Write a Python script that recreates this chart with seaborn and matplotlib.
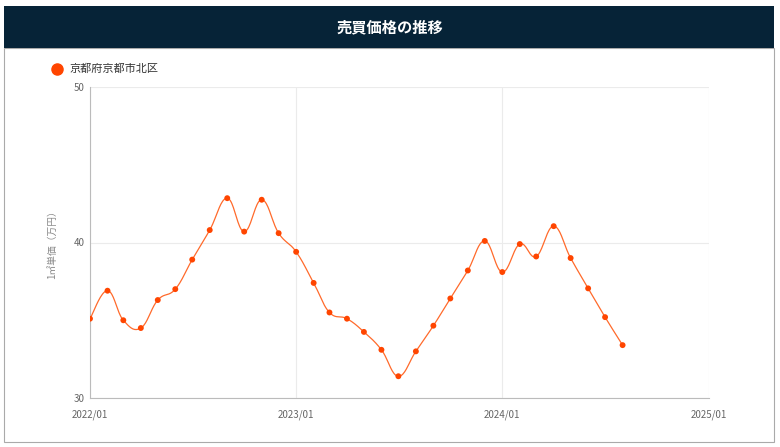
import numpy as np
import pandas as pd
import seaborn as sns
import matplotlib.pyplot as plt
from matplotlib.patches import Rectangle

months = pd.date_range("2022-01-01", periods=32, freq="MS")
prices = [35.1, 36.9, 35.0, 34.5, 36.3, 37.0, 38.9, 40.8, 42.85, 40.7, 42.75, 40.6,
          39.4, 37.4, 35.5, 35.1, 34.25, 33.1, 31.4, 33.0, 34.65, 36.4, 38.2, 40.1,
          38.1, 39.9, 39.1, 41.05, 39.0, 37.05, 35.2, 33.4]
area = "京都府京都市北区"
title = "売買価格の推移"
ylabel = "1㎡単価（万円）"
yticks = [30, 40, 50]
xticks = ["2022-01-01", "2023-01-01", "2024-01-01", "2025-01-01"]
xticklabels = ["2022/01", "2023/01", "2024/01", "2025/01"]

sns.set_style("white")
plt.rcParams['font.family'] = ['Noto Sans CJK JP', 'DejaVu Sans']

df = pd.DataFrame({"month": months, "price": prices})


# smooth curve through the points (cardinal spline, just for drawing the line)
def smooth(x, y, tension=0.4, n=20):
    xs, ys = [], []
    for i in range(len(x) - 1):
        x0, x3 = x[max(i - 1, 0)], x[min(i + 2, len(x) - 1)]
        y0, y3 = y[max(i - 1, 0)], y[min(i + 2, len(y) - 1)]
        x1, x2, y1, y2 = x[i], x[i + 1], y[i], y[i + 1]
        c1x = x1 + (x2 - x0) * tension / 2
        c1y = y1 + (y2 - y0) * tension / 2
        c2x = x2 - (x3 - x1) * tension / 2
        c2y = y2 - (y3 - y1) * tension / 2
        t = np.linspace(0, 1, n, endpoint=False)
        xs.append((1-t)**3*x1 + 3*(1-t)**2*t*c1x + 3*(1-t)*t**2*c2x + t**3*x2)
        ys.append((1-t)**3*y1 + 3*(1-t)**2*t*c1y + 3*(1-t)*t**2*c2y + t**3*y2)
    xs.append([x[-1]])
    ys.append([y[-1]])
    return np.concatenate(xs), np.concatenate(ys)


xnum = (df["month"] - pd.Timestamp("2022-01-01")).dt.days.to_numpy(dtype=float)
sx, sy = smooth(xnum, df["price"].to_numpy())
curve = pd.DataFrame({"month": pd.Timestamp("2022-01-01") + pd.to_timedelta(sx, unit="D"),
                      "price": sy})

fig = plt.figure(figsize=(7.8, 4.47), dpi=100)
ax = fig.add_axes([90/780, 1-398/447, (709-90)/780, (398-87)/447])

sns.lineplot(data=curve, x="month", y="price", ax=ax, color="#ff6a2b", linewidth=0.9,
             sort=False, estimator=None)
sns.scatterplot(data=df, x="month", y="price", ax=ax, color="#ff4500", s=18,
                edgecolor="none", zorder=3)

ax.set_ylim(30, 50)
ax.set_xlim(pd.Timestamp(xticks[0]), pd.Timestamp(xticks[-1]))
ax.set_yticks(yticks)
ax.set_xticks(pd.to_datetime(xticks))
ax.set_xticklabels(xticklabels)
ax.tick_params(axis="both", labelsize=7, colors="#666666", length=0)
ax.tick_params(axis="x", pad=8)
ax.tick_params(axis="y", pad=4)
ax.grid(True, color="#ebebeb", linewidth=0.8)
for s in ["top", "right"]:
    ax.spines[s].set_visible(False)
for s in ["left", "bottom"]:
    ax.spines[s].set_color("#bbbbbb")
    ax.spines[s].set_linewidth(0.8)
ax.set_xlabel("")
ax.set_ylabel(ylabel, fontsize=7, color="#888888", labelpad=12)

# header bar and frame
fig.patches.append(Rectangle((4/780, 1-442/447), 770/780, 394/447, transform=fig.transFigure,
                             facecolor="none", edgecolor="#aaaaaa", linewidth=0.8))
fig.patches.append(Rectangle((4/780, 1-48/447), 770/780, 42/447, transform=fig.transFigure,
                             facecolor="#062337", edgecolor="none"))
fig.text(0.5, 1-27/447, title, color="white", fontsize=11, fontweight="bold",
         ha="center", va="center")

# legend
fig.add_artist(plt.Line2D([57/780], [1-69/447], marker="o", markersize=8, color="#ff4500",
                          linestyle="none", transform=fig.transFigure))
fig.text(69/780, 1-69/447, area, fontsize=8, color="#333333", va="center", ha="left")

fig.savefig("out.png", dpi=100)
